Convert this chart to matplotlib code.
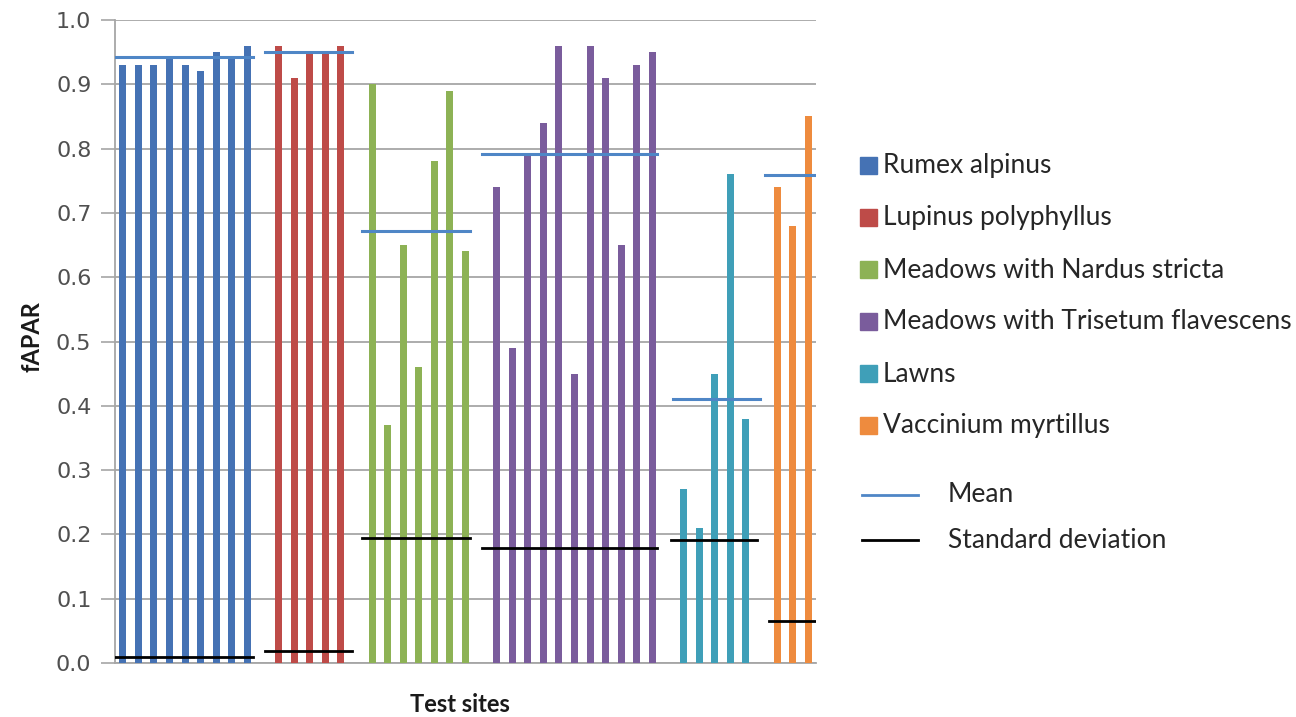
import matplotlib
matplotlib.use("Agg")
import matplotlib.pyplot as plt
from matplotlib.lines import Line2D
from matplotlib.patches import Rectangle

# ---------------- data ----------------
groups = ["Rumex alpinus", "Lupinus polyphyllus", "Meadows with Nardus stricta",
          "Meadows with Trisetum flavescens", "Lawns", "Vaccinium myrtillus"]
rumex = [0.93, 0.93, 0.93, 0.94, 0.93, 0.92, 0.95, 0.94, 0.96]
lupinus = [0.96, 0.91, 0.95, 0.95, 0.96]
nardus = [0.90, 0.37, 0.65, 0.46, 0.78, 0.89, 0.64]
trisetum = [0.74, 0.49, 0.79, 0.84, 0.96, 0.45, 0.96, 0.91, 0.65, 0.93, 0.95]
lawns = [0.27, 0.21, 0.45, 0.76, 0.38]
vaccinium = [0.74, 0.68, 0.85]
means = [0.942, 0.950, 0.672, 0.792, 0.410, 0.759]
stds = [0.009, 0.019, 0.194, 0.179, 0.191, 0.066]
yticks = [0.0, 0.1, 0.2, 0.3, 0.4, 0.5, 0.6, 0.7, 0.8, 0.9, 1.0]
ytick_labels = ["0.0", "0.1", "0.2", "0.3", "0.4", "0.5", "0.6", "0.7", "0.8", "0.9", "1.0"]
series = [rumex, lupinus, nardus, trisetum, lawns, vaccinium]

# ---------------- style ----------------
colors = ["#4572B4", "#BE4B48", "#8DB255", "#7A5C9C", "#3F9FB8", "#EE8B3E"]
mean_color = "#4F86C6"
# horizontal extents of mean / std lines relative to first/last bar of group
mean_ext = [(-0.5, 0.35), (-0.9, 0.7), (-0.65, 0.3), (-0.94, 0.3), (-0.7, 0.9), (-0.8, 0.5)]
std_ext = [(-0.5, 0.35), (-0.9, 0.7), (-0.65, 0.3), (-0.94, 0.3), (-0.8, 0.7), (-0.5, 0.5)]

fig = plt.figure(figsize=(12.96, 7.17), dpi=100)
ax = fig.add_axes([115 / 1296, 1 - 663 / 717, (816 - 115) / 1296, (663 - 20) / 717])

pos = 0
for vals, col, m, s, me, se in zip(series, colors, means, stds, mean_ext, std_ext):
    xs = list(range(pos, pos + len(vals)))
    ax.bar(xs, vals, width=0.45, color=col, zorder=3)
    ax.plot([xs[0] + me[0], xs[-1] + me[1]], [m, m], color=mean_color, lw=2.2, zorder=4)
    ax.plot([xs[0] + se[0], xs[-1] + se[1]], [s, s], color="black", lw=2.0, zorder=4)
    pos += len(vals) + 1

ax.set_xlim(-0.5, pos - 1.5)
ax.set_ylim(0, 1.0)
ax.set_yticks(yticks)
ax.set_yticklabels(ytick_labels, fontsize=16, color="#505050")
ax.set_xticks([])
ax.yaxis.grid(True, color="#A6A6A6", lw=1.3, zorder=0)
for sp in ["top", "right"]:
    ax.spines[sp].set_visible(False)
ax.spines["left"].set_color("#A6A6A6")
ax.spines["left"].set_linewidth(1.3)
ax.spines["bottom"].set_color("#A6A6A6")
ax.spines["bottom"].set_linewidth(1.3)
ax.tick_params(axis="y", length=10, width=1.2, color="#A6A6A6", pad=7)

fig.text(32 / 1296, 1 - 337 / 717, "fAPAR", rotation=90, ha="center", va="center",
         fontsize=17, fontweight="bold", family="Lato", color="#1A1A1A")
fig.text(460 / 1296, 1 - 704 / 717, "Test sites", ha="center", va="center",
         fontsize=17, fontweight="bold", family="Lato", color="#1A1A1A")

# ---------------- legend ----------------
W, H = 1296, 717
row_y = [166, 218, 270, 322, 374, 426]
for name, col, yy in zip(groups, colors, row_y):
    fig.patches.append(Rectangle((860 / W, 1 - (yy + 8) / H), 17 / W, 17 / H,
                                 transform=fig.transFigure, color=col))
    fig.text(883 / W, 1 - yy / H, name, ha="left", va="center", fontsize=19,
             family="Lato", color="#262626")
for label, col, yy in [("Mean", mean_color, 495), ("Standard deviation", "black", 540)]:
    fig.lines.append(Line2D([862 / W, 918 / W], [1 - yy / H, 1 - yy / H],
                            transform=fig.transFigure, color=col, lw=2))
    fig.text(948 / W, 1 - yy / H, label, ha="left", va="center", fontsize=19,
             family="Lato", color="#262626")

fig.savefig("out.png", dpi=100)
